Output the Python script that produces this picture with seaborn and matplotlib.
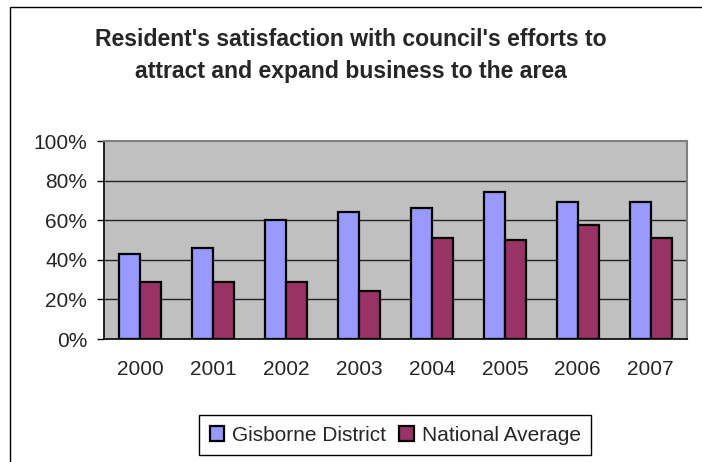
import matplotlib
matplotlib.use("Agg")
import matplotlib.pyplot as plt
import matplotlib.patches as mpatches
from matplotlib.ticker import FixedLocator, PercentFormatter
import pandas as pd
import seaborn as sns

# Données
years = ["2000", "2001", "2002", "2003", "2004", "2005", "2006", "2007"]
gisborne = [43, 46, 60, 64, 66, 74, 69, 69]
national = [29, 29, 29, 24, 51, 50, 57.5, 51]
series_names = ["Gisborne District", "National Average"]
colors = ["#9999FF", "#993366"]

df = pd.DataFrame({
    "year": years * 2,
    "value": gisborne + national,
    "series": [series_names[0]] * len(years) + [series_names[1]] * len(years),
})

sns.set_style("white")
plt.rcParams["font.family"] = ["Liberation Sans", "DejaVu Sans"]

fig = plt.figure(figsize=(7.02, 4.62), dpi=100)
ax = fig.add_axes([0.148, 0.2662, 0.8307, 0.4286])
ax.set_facecolor("#C0C0C0")

sns.barplot(data=df, x="year", y="value", hue="series", palette=colors,
            saturation=1, width=0.575, gap=0, edgecolor="black", linewidth=1.6,
            legend=True, ax=ax, zorder=3)

ax.set_ylim(0, 100)
ax.set_xlim(-0.5, len(years) - 0.5)
ax.yaxis.set_major_locator(FixedLocator([0, 20, 40, 60, 80, 100]))
ax.yaxis.set_major_formatter(PercentFormatter(decimals=0))
for v in [20, 40, 60, 80]:
    ax.axhline(v, color="#222222", linewidth=1, zorder=1)

ax.set_xlabel("")
ax.set_ylabel("")
ax.xaxis.set_minor_locator(FixedLocator([i + 0.5 for i in range(-1, len(years))]))
ax.tick_params(axis="x", which="major", length=0, pad=15, labelsize=15)
ax.tick_params(axis="x", which="minor", length=5, width=1, color="black", direction="out")
ax.tick_params(axis="y", length=5, width=1, color="black", direction="out",
               pad=7, labelsize=15, left=True)

for side in ["left", "bottom"]:
    ax.spines[side].set_color("black")
    ax.spines[side].set_linewidth(1.2)
for side in ["top", "right"]:
    ax.spines[side].set_visible(True)
    ax.spines[side].set_color("#808080")
    ax.spines[side].set_linewidth(1.5)

handles, labels = ax.get_legend_handles_labels()
ax.legend(handles, labels, loc="center", bbox_to_anchor=(0.563, 0.058),
          bbox_transform=fig.transFigure, ncol=2, frameon=True, fancybox=False,
          edgecolor="black", framealpha=1, fontsize=15, handlelength=0.7,
          handleheight=0.7, handletextpad=0.4, columnspacing=0.6,
          borderpad=0.5)
ax.get_legend().get_frame().set_linewidth(1)

fig.text(0.5, 0.88, "Resident's satisfaction with council's efforts to\n"
         "attract and expand business to the area",
         ha="center", va="center", fontsize=16.6, fontweight="bold",
         linespacing=1.5)

# Cadre du graphique
fig.patches.append(mpatches.Rectangle((0.014, -0.5), 2, 0.985 + 0.5,
                                      transform=fig.transFigure, fill=False,
                                      edgecolor="black", linewidth=1))

plt.savefig("out.png", dpi=100)
